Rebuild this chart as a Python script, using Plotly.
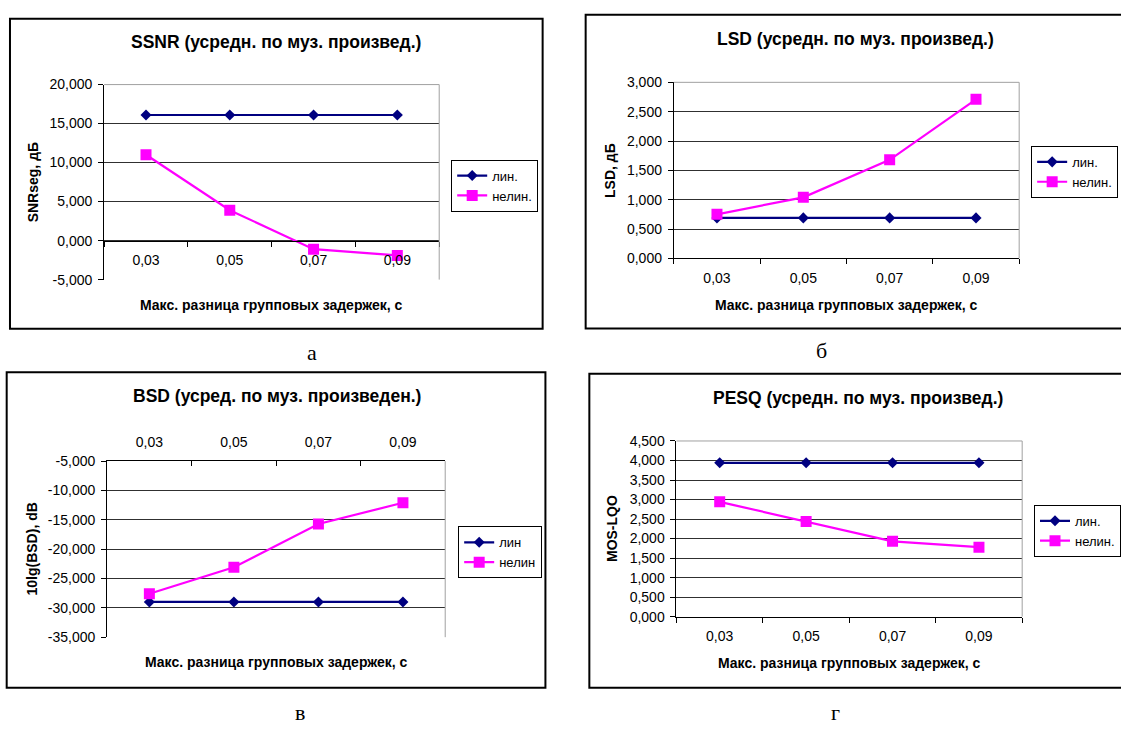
import plotly.graph_objects as go

# ---------------- DATA ----------------
categories = ["0,03", "0,05", "0,07", "0,09"]

ssnr_lin = [16.1, 16.1, 16.1, 16.1]
ssnr_nelin = [11.0, 3.9, -1.1, -1.9]
ssnr_ticks = [-5, 0, 5, 10, 15, 20]

lsd_lin = [0.69, 0.69, 0.69, 0.69]
lsd_nelin = [0.75, 1.04, 1.68, 2.71]
lsd_ticks = [0, 0.5, 1.0, 1.5, 2.0, 2.5, 3.0]

bsd_lin = [-29.0, -29.0, -29.0, -29.0]
bsd_nelin = [-27.6, -23.1, -15.7, -12.1]
bsd_ticks = [-35, -30, -25, -20, -15, -10, -5]

pesq_lin = [3.94, 3.94, 3.94, 3.94]
pesq_nelin = [2.94, 2.44, 1.93, 1.78]
pesq_ticks = [0, 0.5, 1.0, 1.5, 2.0, 2.5, 3.0, 3.5, 4.0, 4.5]

titles = ["SSNR (усредн. по муз. произвед.)", "LSD (усредн. по муз. произвед.)",
          "BSD (усред. по муз. произведен.)", "PESQ (усредн. по муз. произвед.)"]
ytitles = ["SNRseg, дБ", "LSD, дБ", "10lg(BSD), dB", "MOS-LQO"]
xtitle = "Макс. разница групповых задержек, с"
legend_names = [("лин.", "нелин."), ("лин.", "нелин."), ("лин", "нелин"), ("лин.", "нелин.")]
panel_labels = ["а", "б", "в", "г"]

# ---------------- LAYOUT (pixels) ----------------
W, H = 1121, 729
def px(x):
    return x / W
def py(y):
    return 1 - y / H

panels = [
    dict(lin=ssnr_lin, nel=ssnr_nelin, ticks=ssnr_ticks,
         plot=(104.3, 440, 78.3, 277.7), frame=(10, 543.6, 11, 328),
         title=(276.8, 34.3), ytitle=(33.3, 178), xtitle_y=303.3, legend=(452, 155),
         label=(313, 352), xmode="zero"),
    dict(lin=lsd_lin, nel=lsd_nelin, ticks=lsd_ticks,
         plot=(675, 1021, 76, 256), frame=(586.7, 1140, 7, 327.7),
         title=(857, 31.7), ytitle=(611.7, 166), xtitle_y=303.3, legend=(1033, 141),
         label=(823, 350), xmode="bottom"),
    dict(lin=bsd_lin, nel=bsd_nelin, ticks=bsd_ticks,
         plot=(107.3, 446, 463.3, 643.3), frame=(6.7, 546.4, 372.3, 695),
         title=(277, 396.7), ytitle=(31.7, 553), xtitle_y=668.3, legend=(459, 530),
         label=(301, 720), xmode="top"),
    dict(lin=pesq_lin, nel=pesq_nelin, ticks=pesq_ticks,
         plot=(677.7, 1024, 442.7, 622.3), frame=(590.4, 1140, 374, 695),
         title=(860, 398.3), ytitle=(613.3, 532.5), xtitle_y=670, legend=(1036, 508),
         label=(837, 720), xmode="bottom"),
]

FONT = "Liberation Sans, Arial, sans-serif"
NAVY = "#000080"
MAGENTA = "#FF00FF"
GRID = "#303030"
BORDER = "#A0A0A0"

fig = go.Figure()
layout = dict(width=W, height=H, margin=dict(l=0, r=0, t=0, b=0),
              paper_bgcolor="white", plot_bgcolor="white",
              font=dict(family=FONT, size=14, color="black"),
              shapes=[], annotations=[])

for i, p in enumerate(panels):
    n = i + 1
    xa = "x" if n == 1 else f"x{n}"
    ya = "y" if n == 1 else f"y{n}"
    xkey = "xaxis" if n == 1 else f"xaxis{n}"
    ykey = "yaxis" if n == 1 else f"yaxis{n}"
    lg = "legend" if n == 1 else f"legend{n}"
    x0, x1, ytop, ybot = p["plot"]
    ticks = p["ticks"]
    ymin, ymax = min(ticks), max(ticks)
    ticktext = [f"{t:.3f}".replace(".", ",") for t in ticks]

    fig.add_trace(go.Scatter(x=categories, y=p["lin"], name=legend_names[i][0],
                             mode="lines+markers", xaxis=xa, yaxis=ya, legend=lg,
                             line=dict(color=NAVY, width=2.2),
                             marker=dict(symbol="diamond", size=8.5, color=NAVY)))
    fig.add_trace(go.Scatter(x=categories, y=p["nel"], name=legend_names[i][1],
                             mode="lines+markers", xaxis=xa, yaxis=ya, legend=lg,
                             line=dict(color=MAGENTA, width=2.2),
                             marker=dict(symbol="square", size=11, color=MAGENTA)))

    ydom = [py(ybot), py(ytop)]
    xaxis = dict(domain=[px(x0), px(x1)], type="category", range=[-0.5, 3.5],
                 showgrid=False, zeroline=False, showline=True, linecolor="black",
                 linewidth=1, tickson="boundaries", ticklen=5, tickcolor="black",
                 tickfont=dict(size=14, family=FONT), fixedrange=True)
    if p["xmode"] == "zero":
        pos = ydom[0] + (0 - ymin) / (ymax - ymin) * (ydom[1] - ydom[0])
        xaxis.update(anchor="free", position=pos, side="bottom", ticks="outside",
                     ticklabelstandoff=7)
    elif p["xmode"] == "top":
        xaxis.update(anchor=ya, side="top", ticks="inside", ticklabelstandoff=8)
    else:
        xaxis.update(anchor=ya, side="bottom", ticks="outside", ticklabelstandoff=7)
    layout[xkey] = xaxis
    layout[ykey] = dict(domain=ydom, range=[ymin, ymax], anchor=xa,
                        tickvals=ticks, ticktext=ticktext, showgrid=True,
                        gridcolor=GRID, gridwidth=1, zeroline=False,
                        showline=True, linecolor="black", linewidth=1,
                        ticks="outside", ticklen=5, tickcolor="black",
                        ticklabelstandoff=3,
                        tickfont=dict(size=14, family=FONT), fixedrange=True)

    # plot-area border (top and right, gray)
    if p["xmode"] != "top":
        layout["shapes"].append(dict(type="line", xref="paper", yref="paper",
                                     x0=px(x0), x1=px(x1), y0=py(ytop), y1=py(ytop),
                                     line=dict(color=BORDER, width=1), layer="above"))
    layout["shapes"].append(dict(type="line", xref="paper", yref="paper",
                                 x0=px(x1), x1=px(x1), y0=py(ytop), y1=py(ybot),
                                 line=dict(color=BORDER, width=1), layer="above"))
    # chart frame
    fx0, fx1, fy0, fy1 = p["frame"]
    layout["shapes"].append(dict(type="rect", xref="paper", yref="paper",
                                 x0=px(fx0), x1=px(fx1), y0=py(fy1), y1=py(fy0),
                                 line=dict(color="black", width=2), layer="below"))

    # legend
    lx, ly = p["legend"]
    layout[lg] = dict(x=px(lx), y=py(ly), xanchor="left", yanchor="top",
                      bgcolor="white", bordercolor="black", borderwidth=1,
                      font=dict(size=13, family=FONT), tracegroupgap=0,
                      itemclick=False, itemdoubleclick=False)

    # texts
    tx, ty = p["title"]
    layout["annotations"].append(dict(text=f"<b>{titles[i]}</b>", x=px(tx), y=py(ty),
                                      xref="paper", yref="paper", showarrow=False,
                                      xanchor="center", yanchor="middle",
                                      font=dict(size=17.5, family=FONT)))
    yx, yy = p["ytitle"]
    layout["annotations"].append(dict(text=f"<b>{ytitles[i]}</b>", x=px(yx), y=py(yy),
                                      xref="paper", yref="paper", showarrow=False,
                                      textangle=-90, xanchor="center", yanchor="middle",
                                      font=dict(size=14, family=FONT)))
    layout["annotations"].append(dict(text=f"<b>{xtitle}</b>", x=px((x0 + x1) / 2),
                                      y=py(p["xtitle_y"]), xref="paper", yref="paper",
                                      showarrow=False, xanchor="center", yanchor="middle",
                                      font=dict(size=14, family=FONT)))
    lbx, lby = p["label"]
    layout["annotations"].append(dict(text=panel_labels[i], x=px(lbx), y=py(lby),
                                      xref="paper", yref="paper", showarrow=False,
                                      xanchor="center", yanchor="middle",
                                      font=dict(size=22, family="Liberation Serif, Times New Roman, serif")))

fig.update_layout(**layout)
fig.write_html("out.html", config=dict(displayModeBar=False),
               post_script="document.body.style.margin='0';document.body.style.overflow='hidden';")
